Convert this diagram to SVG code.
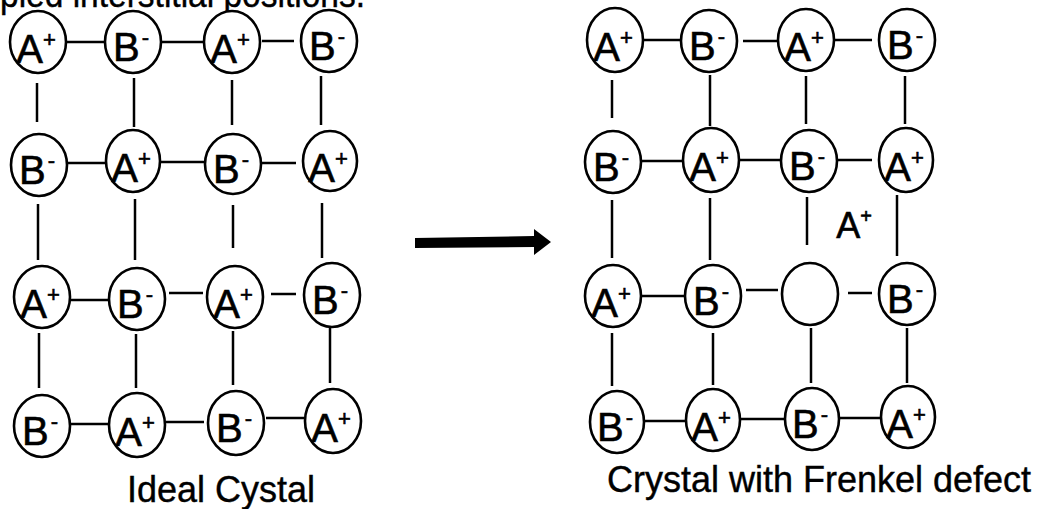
<svg xmlns="http://www.w3.org/2000/svg" width="1044" height="509" viewBox="0 0 1044 509">
  <style>
    .atom { fill: #fff; stroke: #000; stroke-width: 2.6; }
    .bond { stroke: #000; stroke-width: 2.5; fill: none; }
    .lbl { font-family: "Liberation Sans", Arial, sans-serif; font-size: 40px; fill: #000; stroke: #000; stroke-width: 0.6; text-anchor: middle; }
    .sup { font-size: 22px; }
    .cap { font-family: "Liberation Sans", Arial, sans-serif; font-size: 36px; fill: #000; stroke: #000; stroke-width: 0.4; }
  </style>
  <rect width="1044" height="509" fill="#fff"/>

  <!-- heading line running off the top edge -->
  <text class="cap" x="0" y="7" textLength="365" lengthAdjust="spacingAndGlyphs">pied interstitial positions.</text>

  <!-- bonds -->
  <g id="connectors" class="bond">
    <!-- ideal crystal: horizontal -->
    <line x1="66" y1="42" x2="105" y2="42"/>
    <line x1="161" y1="42" x2="204" y2="42"/>
    <line x1="262" y1="41" x2="294" y2="41"/>
    <line x1="67" y1="163" x2="105" y2="163"/>
    <line x1="161" y1="162" x2="205" y2="162"/>
    <line x1="262" y1="163" x2="296" y2="163"/>
    <line x1="70" y1="300" x2="108" y2="300"/>
    <line x1="169" y1="293" x2="203" y2="293"/>
    <line x1="271" y1="294" x2="296" y2="294"/>
    <line x1="70" y1="424" x2="108" y2="424"/>
    <line x1="166" y1="422" x2="204" y2="422"/>
    <line x1="266" y1="418" x2="304" y2="418"/>
    <!-- ideal crystal: vertical -->
    <line x1="37" y1="83" x2="37" y2="122"/>
    <line x1="134" y1="78" x2="134" y2="127"/>
    <line x1="232" y1="80" x2="232" y2="125"/>
    <line x1="321" y1="76" x2="321" y2="125"/>
    <line x1="38" y1="204" x2="38" y2="260"/>
    <line x1="135" y1="199" x2="135" y2="260"/>
    <line x1="233" y1="205" x2="233" y2="248"/>
    <line x1="322" y1="203" x2="322" y2="258"/>
    <line x1="39" y1="333" x2="39" y2="388"/>
    <line x1="136" y1="334" x2="136" y2="388"/>
    <line x1="233" y1="331" x2="233" y2="385"/>
    <line x1="330" y1="328" x2="330" y2="383"/>

    <!-- Frenkel crystal: horizontal -->
    <line x1="643" y1="40" x2="681" y2="40"/>
    <line x1="743" y1="41" x2="778" y2="41"/>
    <line x1="834" y1="40" x2="872" y2="40"/>
    <line x1="641" y1="161" x2="683" y2="161"/>
    <line x1="739" y1="160" x2="781" y2="160"/>
    <line x1="838" y1="160" x2="872" y2="160"/>
    <line x1="641" y1="296" x2="685" y2="296"/>
    <line x1="746" y1="290" x2="778" y2="290"/>
    <line x1="848" y1="293" x2="872" y2="293"/>
    <line x1="645" y1="421" x2="685" y2="421"/>
    <line x1="741" y1="419" x2="784" y2="419"/>
    <line x1="840" y1="418" x2="880" y2="418"/>
    <!-- Frenkel crystal: vertical -->
    <line x1="612" y1="80" x2="612" y2="118"/>
    <line x1="710" y1="75" x2="710" y2="126"/>
    <line x1="806" y1="76" x2="806" y2="124"/>
    <line x1="905" y1="76" x2="905" y2="124"/>
    <line x1="612" y1="200" x2="612" y2="258"/>
    <line x1="710" y1="198" x2="710" y2="260"/>
    <line x1="807" y1="197" x2="807" y2="245"/>
    <line x1="897" y1="195" x2="897" y2="256"/>
    <line x1="612" y1="333" x2="612" y2="386"/>
    <line x1="713" y1="333" x2="713" y2="385"/>
    <line x1="811" y1="328" x2="811" y2="383"/>
    <line x1="907" y1="328" x2="907" y2="383"/>

    <!-- transformation arrow -->
    <polygon points="415,238 534,236 534,229 551,242 534,255 534,247 415,248" fill="#000" stroke="none"/>
  </g>

  <!-- ideal crystal -->
  <g id="L11" transform="translate(38,42)"><ellipse class="atom" rx="28" ry="31"/><text class="lbl" x="-2" y="21">A<tspan class="sup" dy="-16">+</tspan></text></g>
  <g id="L12" transform="translate(133,42)"><ellipse class="atom" rx="28" ry="31"/><text class="lbl" x="-2" y="19">B<tspan class="sup" dx="2" dy="-16">-</tspan></text></g>
  <g id="L13" transform="translate(232,42)"><ellipse class="atom" rx="28" ry="31"/><text class="lbl" x="-2" y="21">A<tspan class="sup" dy="-16">+</tspan></text></g>
  <g id="L14" transform="translate(329,41)"><ellipse class="atom" rx="28" ry="31"/><text class="lbl" x="-2" y="19">B<tspan class="sup" dx="2" dy="-16">-</tspan></text></g>

  <g id="L21" transform="translate(39,165)"><ellipse class="atom" rx="28" ry="31"/><text class="lbl" x="-2" y="19">B<tspan class="sup" dx="2" dy="-16">-</tspan></text></g>
  <g id="L22" transform="translate(133,161)"><ellipse class="atom" rx="27" ry="31"/><text class="lbl" x="-2" y="21">A<tspan class="sup" dy="-16">+</tspan></text></g>
  <g id="L23" transform="translate(233,164)"><ellipse class="atom" rx="28" ry="30"/><text class="lbl" x="-2" y="19">B<tspan class="sup" dx="2" dy="-16">-</tspan></text></g>
  <g id="L24" transform="translate(330,161)"><ellipse class="atom" rx="27" ry="30"/><text class="lbl" x="-2" y="21">A<tspan class="sup" dy="-16">+</tspan></text></g>

  <g id="L31" transform="translate(42,297)"><ellipse class="atom" rx="28" ry="31"/><text class="lbl" x="-2" y="21">A<tspan class="sup" dy="-16">+</tspan></text></g>
  <g id="L32" transform="translate(137,299)"><ellipse class="atom" rx="28" ry="31"/><text class="lbl" x="-2" y="19">B<tspan class="sup" dx="2" dy="-16">-</tspan></text></g>
  <g id="L33" transform="translate(235,297)"><ellipse class="atom" rx="28" ry="31"/><text class="lbl" x="-2" y="21">A<tspan class="sup" dy="-16">+</tspan></text></g>
  <g id="L34" transform="translate(332,295)"><ellipse class="atom" rx="28" ry="32"/><text class="lbl" x="-2" y="19">B<tspan class="sup" dx="2" dy="-16">-</tspan></text></g>

  <g id="L41" transform="translate(42,426)"><ellipse class="atom" rx="28" ry="31"/><text class="lbl" x="-2" y="19">B<tspan class="sup" dx="2" dy="-16">-</tspan></text></g>
  <g id="L42" transform="translate(137,425)"><ellipse class="atom" rx="28" ry="32"/><text class="lbl" x="-2" y="21">A<tspan class="sup" dy="-16">+</tspan></text></g>
  <g id="L43" transform="translate(236,423)"><ellipse class="atom" rx="28" ry="32"/><text class="lbl" x="-2" y="19">B<tspan class="sup" dx="2" dy="-16">-</tspan></text></g>
  <g id="L44" transform="translate(333,421)"><ellipse class="atom" rx="28" ry="32"/><text class="lbl" x="-2" y="21">A<tspan class="sup" dy="-16">+</tspan></text></g>

  <text id="ideal-caption" class="cap" x="221" y="502" text-anchor="middle">Ideal Cystal</text>

  <!-- crystal with a Frenkel defect -->
  <g id="R11" transform="translate(615,40)"><ellipse class="atom" rx="28" ry="32"/><text class="lbl" x="-2" y="21">A<tspan class="sup" dy="-16">+</tspan></text></g>
  <g id="R12" transform="translate(709,41)"><ellipse class="atom" rx="28" ry="31"/><text class="lbl" x="-2" y="19">B<tspan class="sup" dx="2" dy="-16">-</tspan></text></g>
  <g id="R13" transform="translate(806,40)"><ellipse class="atom" rx="28" ry="31"/><text class="lbl" x="-2" y="21">A<tspan class="sup" dy="-16">+</tspan></text></g>
  <g id="R14" transform="translate(907,40)"><ellipse class="atom" rx="28" ry="31"/><text class="lbl" x="-2" y="19">B<tspan class="sup" dx="2" dy="-16">-</tspan></text></g>

  <g id="R21" transform="translate(613,162)"><ellipse class="atom" rx="28" ry="31"/><text class="lbl" x="-2" y="19">B<tspan class="sup" dx="2" dy="-16">-</tspan></text></g>
  <g id="R22" transform="translate(711,160)"><ellipse class="atom" rx="28" ry="32"/><text class="lbl" x="-2" y="21">A<tspan class="sup" dy="-16">+</tspan></text></g>
  <g id="R23" transform="translate(809,161)"><ellipse class="atom" rx="28" ry="31"/><text class="lbl" x="-2" y="19">B<tspan class="sup" dx="2" dy="-16">-</tspan></text></g>
  <g id="R24" transform="translate(906,160)"><ellipse class="atom" rx="27" ry="32"/><text class="lbl" x="-2" y="21">A<tspan class="sup" dy="-16">+</tspan></text></g>

  <g id="R31" transform="translate(613,296)"><ellipse class="atom" rx="28" ry="31"/><text class="lbl" x="-2" y="21">A<tspan class="sup" dy="-16">+</tspan></text></g>
  <g id="R32" transform="translate(713,296)"><ellipse class="atom" rx="28" ry="31"/><text class="lbl" x="-2" y="19">B<tspan class="sup" dx="2" dy="-16">-</tspan></text></g>
  <g id="R33" transform="translate(810,294)"><ellipse class="atom" rx="28" ry="31"/></g>
  <g id="R34" transform="translate(907,294)"><ellipse class="atom" rx="28" ry="31"/><text class="lbl" x="-2" y="19">B<tspan class="sup" dx="2" dy="-16">-</tspan></text></g>

  <g id="R41" transform="translate(617,422)"><ellipse class="atom" rx="27" ry="31"/><text class="lbl" x="-2" y="19">B<tspan class="sup" dx="2" dy="-16">-</tspan></text></g>
  <g id="R42" transform="translate(713,420)"><ellipse class="atom" rx="27" ry="31"/><text class="lbl" x="-2" y="21">A<tspan class="sup" dy="-16">+</tspan></text></g>
  <g id="R43" transform="translate(812,419)"><ellipse class="atom" rx="27" ry="31"/><text class="lbl" x="-2" y="19">B<tspan class="sup" dx="2" dy="-16">-</tspan></text></g>
  <g id="R44" transform="translate(908,417)"><ellipse class="atom" rx="27" ry="31"/><text class="lbl" x="-2" y="21">A<tspan class="sup" dy="-16">+</tspan></text></g>

  <!-- displaced cation sitting in an interstitial site -->
  <g id="interstitial">
    <text class="lbl" x="854" y="238" style="font-size:36px">A<tspan class="sup" style="font-size:20px" dy="-15">+</tspan></text>
  </g>

  <text id="frenkel-caption" class="cap" x="819" y="492" text-anchor="middle">Crystal with Frenkel defect</text>
</svg>
